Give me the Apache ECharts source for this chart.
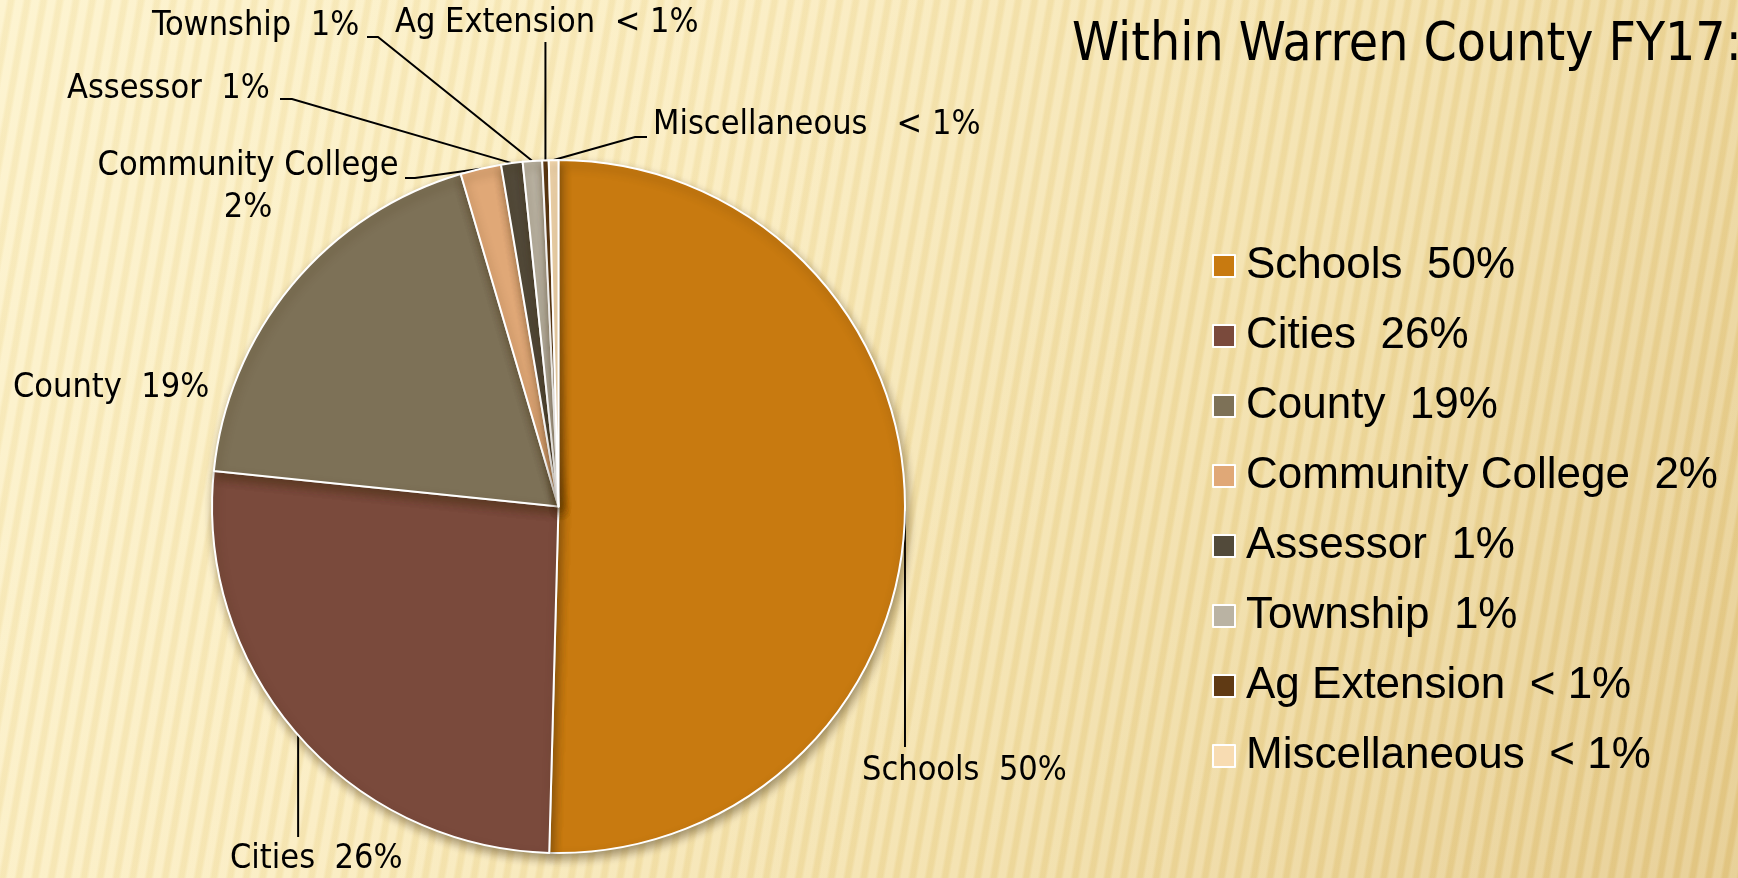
<!DOCTYPE html>
<html>
<head>
<meta charset="utf-8">
<title>Within Warren County FY17</title>
<script src="https://cdn.jsdelivr.net/npm/echarts@6/dist/echarts.min.js"></script>
<style>
    html, body {
        margin: 0;
        padding: 0;
        width: 1738px;
        height: 878px;
        overflow: hidden;
    }
    body {
        background:
            repeating-linear-gradient(100deg, rgba(255,255,255,0.16) 0px, rgba(255,255,255,0.16) 6px, rgba(185,145,50,0.07) 9px, rgba(185,145,50,0.07) 13px, rgba(255,255,255,0.16) 16px),
            linear-gradient(120deg, #fdf2c8 0%, #faebbb 35%, #f2dea4 65%, #e4c886 100%);
    }
    #main {
        width: 1738px;
        height: 878px;
    }
</style>
</head>
<body>
<div id="main"></div>
<script>
// 数据
var categories = ['Schools', 'Cities', 'County', 'Community College', 'Assessor', 'Township', 'Ag Extension', 'Miscellaneous'];
var shares = [50.4, 26.2, 18.8, 1.9, 1.0, 0.9, 0.3, 0.45];
var shareLabels = ['50%', '26%', '19%', '2%', '1%', '1%', '< 1%', '< 1%'];
var sliceColors = ['#c87a10', '#7a4a3c', '#7d7157', '#e0a877', '#524a3a', '#bab3a3', '#603a14', '#f8dcb2'];

// label spots + leader line tails (everything after the slice edge point)
var labelSpots = [
    {x: 862, y: 771, align: 'left', tail: [[906, 747]], vertical: true},
    {x: 230, y: 859, align: 'left', tail: [[297, 837]], vertical: true},
    {x: 13, y: 388, align: 'left', tail: null},
    {x: 248, y: 187, align: 'center', tail: [[415, 178], [405, 178]]},
    {x: 67, y: 89, align: 'left', tail: [[292, 99], [280, 99]]},
    {x: 152, y: 26, align: 'left', tail: [[378, 37], [367, 37]]},
    {x: 395, y: 23, align: 'left', tail: [[545, 42]], vertical: true},
    {x: 653, y: 125, align: 'left', tail: [[635, 137], [647, 137]]}
];

var labelFont = 'DejaVu Sans Condensed';
var legendFont = 'Liberation Sans';

var pieData = [];
for (var i = 0; i < categories.length; i++) {
    pieData.push({
        name: categories[i],
        value: shares[i],
        itemStyle: {color: sliceColors[i]}
    });
}

function labelText(idx) {
    var name = categories[idx];
    if (name === 'Community College') {
        return name + '\n' + shareLabels[idx];
    }
    if (name === 'Miscellaneous') {
        return name + '   ' + shareLabels[idx];
    }
    return name + '  ' + shareLabels[idx];
}

var chart = echarts.init(document.getElementById('main'), null, {renderer: 'canvas'});

chart.setOption({
    animation: false,
    backgroundColor: 'transparent',
    title: {
        text: 'Within Warren County FY17:',
        left: 1067,
        top: 15,
        textStyle: {
            fontFamily: labelFont,
            fontSize: 53,
            fontWeight: 'normal',
            color: '#000'
        }
    },
    legend: {
        orient: 'vertical',
        left: 1207,
        top: 237,
        icon: 'rect',
        itemWidth: 22,
        itemHeight: 22,
        itemGap: 22,
        selectedMode: false,
        data: categories,
        formatter: function (name) {
            return name + '  ' + shareLabels[categories.indexOf(name)];
        },
        itemStyle: {
            borderColor: '#fff',
            borderWidth: 2
        },
        textStyle: {
            fontFamily: legendFont,
            fontSize: 44,
            lineHeight: 48,
            color: '#000',
            padding: [0, 0, 0, 6]
        }
    },
    series: [
        {
            type: 'pie',
            center: [558.5, 506.5],
            radius: 346.5,
            startAngle: 90,
            clockwise: true,
            avoidLabelOverlap: false,
            silent: true,
            data: pieData,
            itemStyle: {
                borderColor: '#fff',
                borderWidth: 2,
                shadowBlur: 10,
                shadowOffsetX: 2,
                shadowOffsetY: 5,
                shadowColor: 'rgba(60, 40, 10, 0.45)'
            },
            label: {
                show: true,
                position: 'outside',
                formatter: function (p) {
                    return labelText(p.dataIndex);
                },
                fontFamily: labelFont,
                fontSize: 34,
                lineHeight: 42,
                color: '#000'
            },
            labelLine: {
                show: true,
                length: 20,
                length2: 10,
                smooth: false,
                lineStyle: {
                    color: '#000',
                    width: 2
                }
            },
            labelLayout: function (params) {
                var spot = labelSpots[params.dataIndex];
                var pts = params.labelLinePoints;
                var line = [];
                if (spot.tail && pts && pts.length) {
                    var start = pts[0];
                    line.push([start[0], start[1]]);
                    for (var k = 0; k < spot.tail.length; k++) {
                        var t = spot.tail[k];
                        line.push(spot.vertical ? [start[0], t[1]] : [t[0], t[1]]);
                    }
                } else {
                    var p = pts && pts.length ? pts[0] : [0, 0];
                    line = [[p[0], p[1]], [p[0], p[1]]];
                }
                return {
                    x: spot.x,
                    y: spot.y,
                    align: spot.align,
                    verticalAlign: 'middle',
                    labelLinePoints: line
                };
            }
        }
    ]
});
</script>
</body>
</html>
